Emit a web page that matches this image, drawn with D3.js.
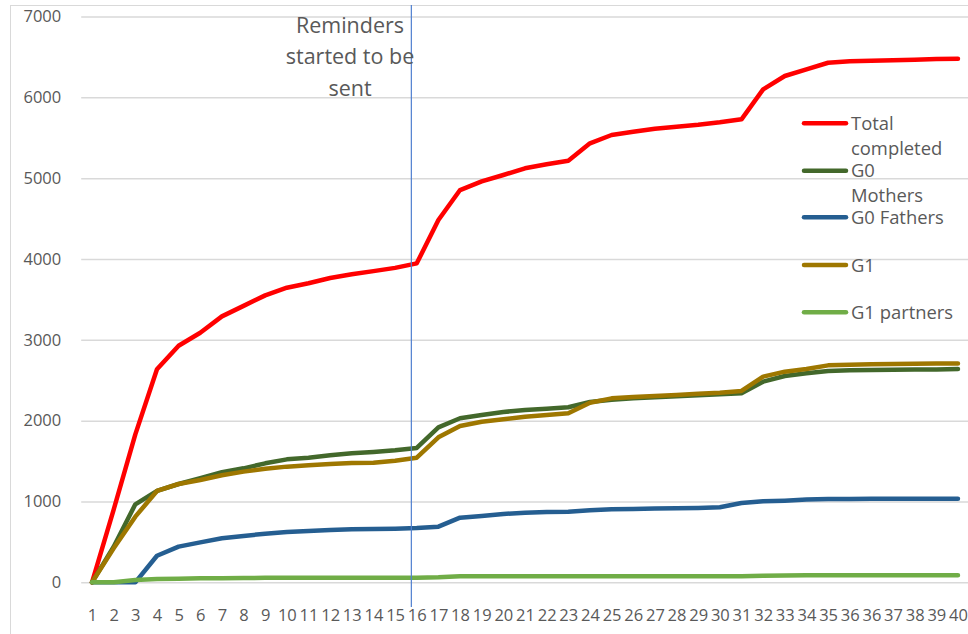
<!DOCTYPE html>
<html>
<head>
<meta charset="utf-8">
<script src="https://cdn.jsdelivr.net/npm/d3@7/dist/d3.min.js"></script>
<style>
  html, body { margin: 0; padding: 0; background: #fff; }
  svg { display: block; }
  text { font-family: "Open Sans", sans-serif; fill: #595959; }
</style>
</head>
<body>
<svg id="chart" width="968" height="634"></svg>
<script>
// ---- data ----
const categories = ["1","2","3","4","5","6","7","8","9","10","11","12","13","14","15","16","17","18","19","20",
  "21","22","23","24","25","26","27","28","29","30","31","32","33","34","35","36","36","37","38","39","40"];

const totalCompleted = [0, 900, 1830, 2635, 2927, 3088, 3290, 3420, 3550, 3645, 3700, 3765, 3810, 3850, 3890, 3946,
  4482, 4853, 4960, 5039, 5122, 5171, 5216, 5431, 5534, 5575, 5612, 5637, 5661, 5691, 5728,
  6099, 6264, 6346, 6428, 6446, 6453, 6458, 6466, 6474, 6478];

const g0Mothers = [0, 440, 965, 1130, 1216, 1287, 1361, 1410, 1472, 1521, 1542, 1571, 1596, 1612, 1633, 1662,
  1917, 2029, 2070, 2107, 2132, 2148, 2165, 2230, 2259, 2276, 2288, 2301, 2313, 2326, 2338,
  2482, 2552, 2585, 2614, 2622, 2626, 2630, 2634, 2634, 2639];

const g0Fathers = [0, 0, 0, 329, 441, 494, 544, 573, 602, 622, 635, 647, 656, 659, 663, 672,
  688, 800, 820, 845, 861, 870, 874, 891, 903, 907, 912, 916, 920, 928, 981,
  1002, 1010, 1023, 1031, 1032, 1033, 1033, 1034, 1034, 1035];

const g1 = [0, 420, 812, 1130, 1216, 1266, 1324, 1369, 1406, 1431, 1447, 1464, 1476, 1480, 1505, 1542,
  1794, 1934, 1987, 2016, 2049, 2070, 2091, 2222, 2276, 2292, 2305, 2317, 2334, 2346, 2367,
  2544, 2606, 2639, 2684, 2693, 2697, 2701, 2705, 2706, 2708];

const g1Partners = [0, 0, 28, 41, 45, 49, 49, 53, 55, 55, 55, 55, 56, 56, 57, 57,
  62, 74, 74, 74, 74, 74, 74, 74, 74, 74, 74, 74, 74, 74, 76,
  80, 83, 86, 86, 86, 86, 86, 86, 86, 86];

const yTicks = [0, 1000, 2000, 3000, 4000, 5000, 6000, 7000];

const seriesNames = ["Total completed", "G0 Mothers", "G0 Fathers", "G1", "G1 partners"];
const seriesColors = ["#FF0000", "#43682B", "#255E91", "#9E7700", "#70AD47"];
const seriesValues = [totalCompleted, g0Mothers, g0Fathers, g1, g1Partners];

// reminder marker position (in category-index units)
const reminderAt = 14.75;
const reminderLines = ["Reminders", "started to be", "sent"];

// ---- layout ----
const svg = d3.select("#chart");
const plot = { left: 81.2, right: 968.8, top: 16.5, bottom: 582.3 };

const x = d3.scaleLinear().domain([-0.5, categories.length - 0.5]).range([plot.left, plot.right]);
const y = d3.scaleLinear().domain([0, 7000]).range([plot.bottom, plot.top]);

// chart border
svg.append("rect")
  .attr("x", 10.5).attr("y", 5.5)
  .attr("width", 1000).attr("height", 1000)
  .attr("fill", "none").attr("stroke", "#D9D9D9").attr("stroke-width", 1);

// y axis + gridlines
const yAxis = svg.append("g")
  .attr("transform", `translate(${plot.left},0)`)
  .call(d3.axisLeft(y).tickValues(yTicks).tickSize(-(plot.right - plot.left)).tickPadding(20).tickFormat(d3.format("d")));
yAxis.select(".domain").remove();
yAxis.selectAll(".tick line").attr("stroke", "#D9D9D9").attr("stroke-width", 1.5);
yAxis.selectAll(".tick text").attr("font-size", "16.5px").attr("fill", "#595959")
  .style("font-family", "'Open Sans', sans-serif");

// x axis labels
const xAxis = svg.append("g")
  .attr("transform", `translate(0,${plot.bottom})`)
  .call(d3.axisBottom(x).tickValues(d3.range(categories.length)).tickSize(0).tickPadding(27)
    .tickFormat(i => categories[i]));
xAxis.select(".domain").remove();
xAxis.selectAll(".tick text").attr("font-size", "16.5px").attr("fill", "#595959")
  .style("font-family", "'Open Sans', sans-serif");

// lines
const line = d3.line().x((d, i) => x(i)).y(d => y(d));
seriesValues.forEach((vals, s) => {
  svg.append("path")
    .datum(vals)
    .attr("d", line)
    .attr("fill", "none")
    .attr("stroke", seriesColors[s])
    .attr("stroke-width", 4.5)
    .attr("stroke-linejoin", "round")
    .attr("stroke-linecap", "round");
});

// reminder vertical line
const rx = x(reminderAt);
svg.append("line")
  .attr("x1", rx).attr("x2", rx)
  .attr("y1", 5).attr("y2", 607)
  .attr("stroke", "#4F7FD0").attr("stroke-width", 1.2);

// annotation text
const ann = svg.append("text")
  .attr("text-anchor", "middle")
  .attr("font-size", "21.5px");
reminderLines.forEach((t, i) => {
  ann.append("tspan").attr("x", 350).attr("y", 33 + i * 31.3).text(t);
});

// legend
const legendRowsY = [123.3, 170.7, 217.3, 265, 312.3];
const legendWrap = [["Total", "completed"], ["G0", "Mothers"], ["G0 Fathers"], ["G1"], ["G1 partners"]];
const legend = svg.append("g");
seriesNames.forEach((name, s) => {
  const gy = legendRowsY[s];
  legend.append("line")
    .attr("x1", 804).attr("x2", 846)
    .attr("y1", gy).attr("y2", gy)
    .attr("stroke", seriesColors[s]).attr("stroke-width", 4.5).attr("stroke-linecap", "round");
  const t = legend.append("text").attr("font-size", "18.4px");
  legendWrap[s].forEach((w, j) => {
    t.append("tspan").attr("x", 851).attr("y", gy + 6.5 + j * 25).text(w);
  });
});
</script>
</body>
</html>
